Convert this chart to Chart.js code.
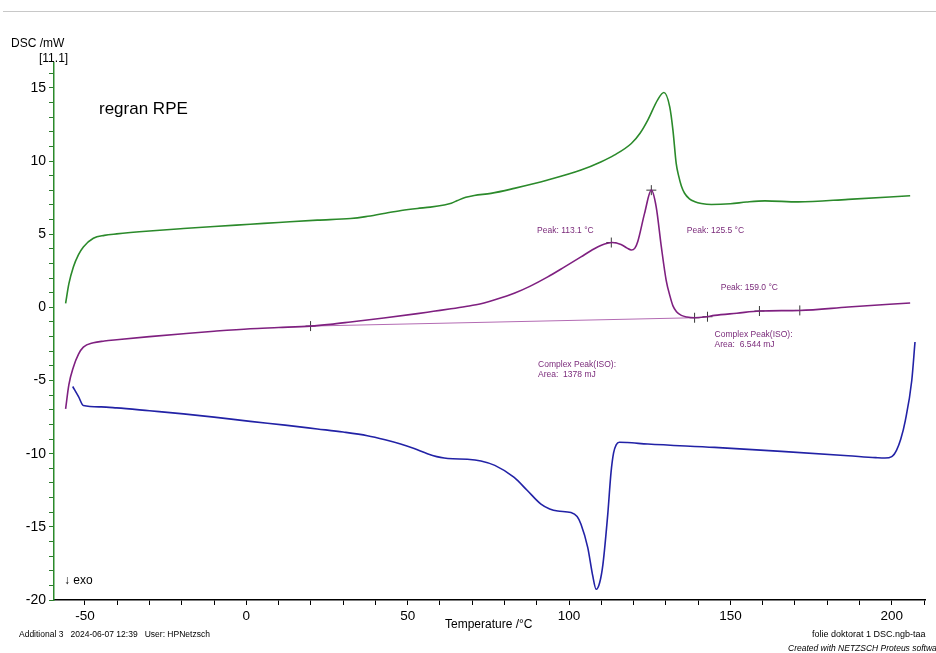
<!DOCTYPE html>
<html>
<head>
<meta charset="utf-8">
<script src="https://cdn.jsdelivr.net/npm/chart.js@4/dist/chart.umd.min.js"></script>
<style>
  html, body { margin: 0; padding: 0; background: #fff; }
  body { width: 936px; height: 653px; position: relative; overflow: hidden; font-family: "Liberation Sans", Arial, sans-serif; color: #000; }
  #wrap { position: absolute; left: 0; top: 0; width: 936px; height: 653px; }
  .t { position: absolute; white-space: nowrap; line-height: 1; }
  .topline { position: absolute; left: 3px; top: 11px; width: 933px; height: 1px; background: #c8c8c8; }
</style>
</head>
<body>
<div class="topline"></div>
<div id="wrap"><canvas id="dscChart" width="936" height="653"></canvas></div>

<div class="t" style="left:11px; top:37px; font-size:12px;">DSC /mW</div>
<div class="t" style="left:39px; top:52px; font-size:12px;">[11.1]</div>
<div class="t" style="left:99px; top:100px; font-size:17px;">regran RPE</div>
<div class="t" style="left:64px; top:574px; font-size:12px;">&darr; exo</div>
<div class="t" style="left:445px; top:618px; font-size:12px;">Temperature /°C</div>
<div class="t" style="left:19px; top:630px; font-size:8.5px;">Additional 3&nbsp;&nbsp;&nbsp;2024-06-07 12:39&nbsp;&nbsp;&nbsp;User: HPNetzsch</div>
<div class="t" style="left:812px; top:630px; font-size:9px;">folie doktorat 1 DSC.ngb-taa</div>
<div class="t" style="left:788px; top:644px; font-size:8.5px; font-style:italic;">Created with NETZSCH Proteus software</div>

<script>
// 1st heating (green)
const heat1Temp = [-56.0, -55.0, -53.6, -52.0, -50.5, -47.4, -44.0, -40.2, -30.0, -19.5, -10.0, 1.2, 10.0, 22.0, 32.3, 37.0, 42.6, 48.0, 53.0, 57.0, 61.3, 63.5, 65.4, 68.0, 70.6, 75.8, 83.0, 93.4, 103.7, 110.0, 114.0, 119.3, 122.0, 124.4, 127.5, 129.4, 131.2, 132.2, 133.2, 134.0, 134.8, 135.8, 137.3, 139.0, 141.0, 144.1, 150.0, 155.0, 160.7, 171.0, 186.5, 205.7];
const heat1Dsc  = [0.27, 1.6, 2.76, 3.6, 4.13, 4.72, 4.92, 5.02, 5.22, 5.39, 5.53, 5.68, 5.8, 5.96, 6.07, 6.2, 6.42, 6.62, 6.76, 6.85, 7.0, 7.12, 7.3, 7.52, 7.65, 7.79, 8.13, 8.7, 9.38, 9.95, 10.4, 11.2, 11.9, 12.8, 14.2, 14.68, 13.7, 12.1, 9.84, 8.95, 8.3, 7.8, 7.42, 7.22, 7.1, 7.03, 7.08, 7.2, 7.28, 7.21, 7.38, 7.63];

// 2nd heating (purple)
const heat2Temp = [-56.0, -55.0, -53.6, -52.0, -50.5, -47.4, -44.0, -40.2, -30.0, -19.5, -10.0, 1.2, 10.0, 19.9, 26.0, 32.3, 42.6, 53.0, 58.0, 63.4, 68.0, 72.7, 77.5, 83.0, 88.0, 93.4, 98.5, 103.7, 107.0, 110.0, 113.4, 116.1, 118.0, 119.3, 120.4, 121.3, 123.4, 125.5, 127.0, 128.6, 130.1, 131.3, 132.2, 133.3, 134.8, 136.5, 138.9, 142.0, 145.1, 152.0, 159.1, 171.5, 186.5, 205.7];
const heat2Dsc  = [-6.94, -5.3, -4.09, -3.2, -2.72, -2.42, -2.3, -2.21, -2.0, -1.8, -1.63, -1.46, -1.38, -1.28, -1.16, -1.0, -0.73, -0.43, -0.27, -0.1, 0.06, 0.25, 0.55, 0.96, 1.45, 2.08, 2.75, 3.45, 3.9, 4.25, 4.43, 4.3, 4.05, 3.92, 4.05, 4.5, 6.42, 8.01, 6.87, 4.13, 1.85, 0.75, 0.1, -0.3, -0.55, -0.66, -0.71, -0.66, -0.55, -0.4, -0.25, -0.21, 0.02, 0.3];

// cooling (blue)
const coolTemp = [-53.8, -52.0, -50.5, -45.0, -40.2, -30.0, -19.5, -10.0, 1.2, 12.0, 22.0, 30.0, 37.5, 43.0, 47.8, 52.0, 56.1, 59.0, 61.3, 64.0, 68.5, 72.7, 77.0, 83.0, 87.0, 91.3, 94.0, 96.5, 100.6, 102.5, 103.7, 105.8, 107.3, 108.4, 109.5, 110.5, 112.0, 113.0, 113.8, 114.6, 115.6, 118.0, 124.4, 145.1, 165.8, 186.5, 195.0, 197.9, 200.0, 201.5, 202.8, 204.2, 206.2, 207.2];
const coolDsc  = [-5.41, -6.1, -6.71, -6.8, -6.87, -7.07, -7.28, -7.5, -7.79, -8.05, -8.31, -8.52, -8.77, -9.05, -9.34, -9.65, -10.0, -10.2, -10.3, -10.35, -10.38, -10.5, -10.8, -11.62, -12.5, -13.45, -13.78, -13.92, -14.02, -14.3, -14.82, -16.42, -18.3, -19.27, -18.8, -17.56, -14.13, -11.3, -9.95, -9.4, -9.22, -9.24, -9.34, -9.57, -9.84, -10.14, -10.27, -10.3, -10.2, -9.75, -9.0, -7.74, -5.0, -2.37];

// integration baseline + evaluation marks on the 2nd heating
const baseTemp = [19.9, 138.9];
const baseDsc  = [-1.28, -0.71];
const markTemp = [19.9, 113.1, 125.5, 138.9, 142.9, 159.0, 171.5];
const markDsc  = [-1.28, 4.43, 8.01, -0.71, -0.64, -0.25, -0.21];

// evaluation texts, anchored in data units (left edge, middle)
const noteText = ['Peak: 113.1 °C', 'Peak: 125.5 °C', 'Peak: 159.0 °C', 'Complex Peak(ISO):', 'Area:  6.544 mJ', 'Complex Peak(ISO):', 'Area:  1378 mJ'];
const noteTemp = [90.1, 136.5, 147.0, 145.1, 145.1, 90.4, 90.4];
const noteDsc  = [5.26, 5.26, 1.32, -1.87, -2.55, -3.89, -4.57];

const X_MIN = -59.6, X_MAX = 210.3;
const Y_MIN = -20, Y_MAX = 16.7;

const zip = (xs, ys) => xs.map((x, i) => ({ x: x, y: ys[i] }));

function curve(temp, dsc, color, width) {
    return {
        data: zip(temp, dsc),
        borderColor: color,
        borderWidth: width,
        pointRadius: 0,
        cubicInterpolationMode: 'monotone',
        fill: false
    };
}

// texts drawn at data positions
const notesPlugin = {
    id: 'notes',
    afterDatasetsDraw(chart) {
        const { ctx, scales } = chart;
        ctx.save();
        ctx.font = '8.5px "Liberation Sans", Arial, sans-serif';
        ctx.fillStyle = '#7a2a7a';
        ctx.textBaseline = 'middle';
        ctx.textAlign = 'left';
        noteText.forEach((txt, i) => {
            ctx.fillText(txt, scales.x.getPixelForValue(noteTemp[i]), scales.y.getPixelForValue(noteDsc[i]));
        });
        ctx.restore();
    }
};

function everyTick(step) {
    return (scale) => {
        const out = [];
        for (let v = Math.ceil(scale.min / step) * step; v <= scale.max + 1e-9; v += step) out.push({ value: v });
        scale.ticks = out;
    };
}

const ctx = document.getElementById('dscChart').getContext('2d');
new Chart(ctx, {
    type: 'line',
    data: {
        datasets: [
            curve(heat1Temp, heat1Dsc, '#2b8a2b', 1.6),
            curve(heat2Temp, heat2Dsc, '#7f2080', 1.6),
            curve(coolTemp, coolDsc, '#2222a6', 1.6),
            { data: zip(baseTemp, baseDsc), borderColor: '#b36bb3', borderWidth: 1, pointRadius: 0 },
            {
                type: 'scatter',
                data: zip(markTemp, markDsc),
                pointStyle: 'cross',
                pointRadius: 5,
                borderColor: '#3a3a3a',
                borderWidth: 1,
                backgroundColor: '#3a3a3a'
            }
        ]
    },
    plugins: [notesPlugin],
    options: {
        responsive: false,
        animation: false,
        devicePixelRatio: 1,
        layout: { padding: { left: 0, top: 63, right: 11, bottom: 0 } },
        plugins: { legend: { display: false }, tooltip: { enabled: false } },
        scales: {
            x: {
                type: 'linear',
                min: X_MIN,
                max: X_MAX,
                afterBuildTicks: everyTick(10),
                afterFit: (s) => { s.height = 53; },
                ticks: {
                    autoSkip: false,
                    maxRotation: 0,
                    padding: 3,
                    color: '#000',
                    font: { family: '"Liberation Sans", Arial, sans-serif', size: 13.5 },
                    callback: (v) => (Math.round(v) % 50 === 0 ? Math.round(v) : '')
                },
                grid: { drawOnChartArea: false, tickLength: 5, color: '#000', lineWidth: 1 },
                border: { color: '#000', width: 1.5 }
            },
            y: {
                type: 'linear',
                min: Y_MIN,
                max: Y_MAX,
                afterBuildTicks: everyTick(1),
                afterFit: (s) => { s.width = 54; },
                ticks: {
                    autoSkip: false,
                    padding: 3,
                    color: '#000',
                    font: { family: '"Liberation Sans", Arial, sans-serif', size: 14 },
                    callback: (v) => (Math.round(v) % 5 === 0 ? Math.round(v) : '')
                },
                grid: { drawOnChartArea: false, tickLength: 5, color: '#2b7a2b', lineWidth: 1 },
                border: { color: '#2b8a2b', width: 1.5 }
            }
        }
    }
});
</script>
</body>
</html>
